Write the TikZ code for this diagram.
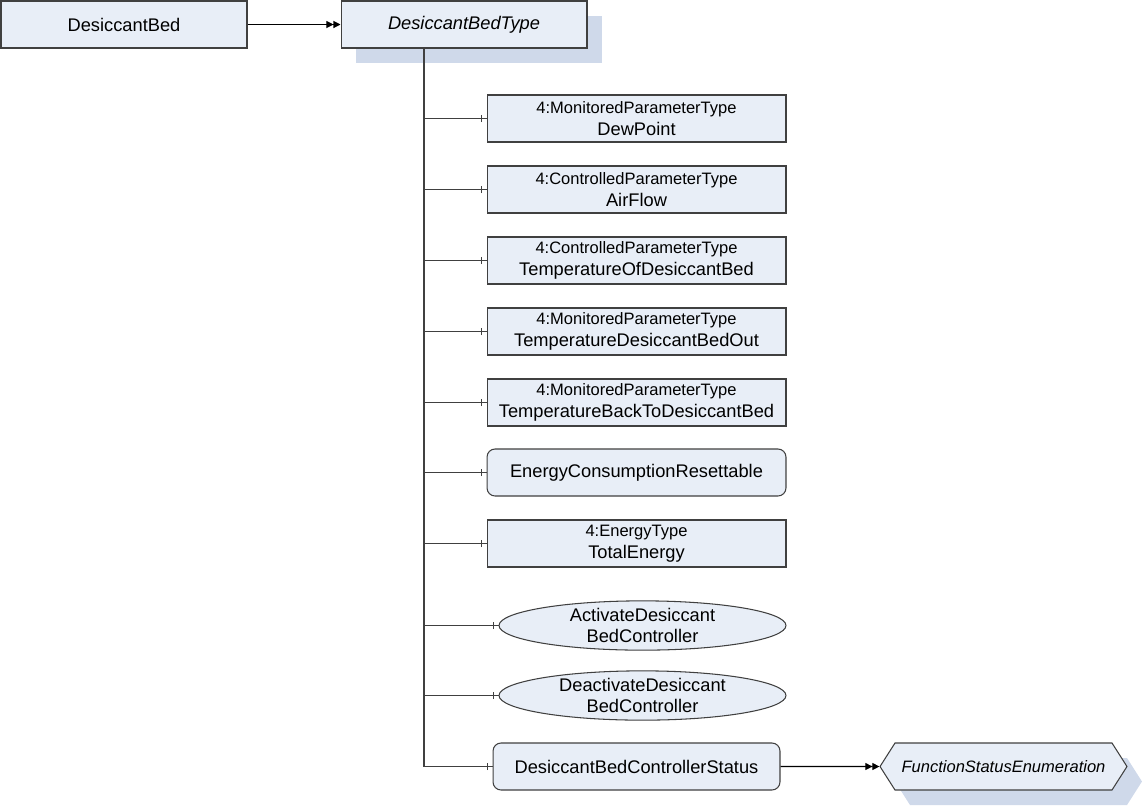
\documentclass[tikz,border=0pt]{standalone}
\usepackage{fontspec}
\setmainfont{Liberation Sans}
\usepackage{tikz}
\usetikzlibrary{arrows.meta,shapes.geometric,shapes.symbols,shadows,decorations.markings}
\definecolor{cFill}{HTML}{E8EEF7}
\definecolor{cShade}{HTML}{CFD9EA}
\definecolor{cLine}{HTML}{404040}
\newcommand{\mainsz}{\fontsize{10.4}{12.2}\selectfont}
\newcommand{\smallsz}{\fontsize{9.4}{11}\selectfont}
\newcommand{\typed}[2]{{\smallsz #1}\\#2}
\tikzset{
  obj/.style={draw=cLine,line width=0.6pt,fill=cFill,minimum width=5.98cm,minimum height=0.94cm,inner sep=0pt,align=center,font=\mainsz},
  shade/.style={general shadow={fill=cShade,shadow xshift=0.3cm,shadow yshift=-0.3cm}},
  tbox/.style={obj,minimum width=4.92cm},
  var/.style={obj,rounded corners=0.16cm},
  meth/.style={obj,ellipse,minimum width=5.74cm},
  enumbox/.style={obj,shade,minimum width=4.94cm,signal,signal to=west and east,signal pointer angle=115,font=\smallsz\itshape},
  ref/.style={draw=black,line width=0.6pt,-{Triangle[length=4pt,width=4pt]Triangle[length=4pt,width=4pt]}},
  branch/.style={draw=cLine,line width=0.6pt,decoration={markings,mark=at position -2.8pt with {\draw[cLine,line width=0.6pt] (0,-2pt) -- (0,2pt);}},postaction={decorate}}
}

\begin{document}
\begin{tikzpicture}[x=0.02cm,y=-0.02cm]
  \useasboundingbox (0,0) rectangle (1143,806);
  % object and its type
  \node[tbox] (bed) at (124,24.5) {DesiccantBed};
  \node[tbox,shade] (bedtype) at (464,24.5) {\itshape DesiccantBedType};
  \draw[ref] (bed) -- (bedtype);
  \coordinate (trunk) at (424,48);
  % components
  \foreach \n/\y/\t/\v in {dew/118.5/4:MonitoredParameterType/DewPoint,
      flow/189.5/4:ControlledParameterType/AirFlow,
      temp/260.5/4:ControlledParameterType/TemperatureOfDesiccantBed,
      tout/331.5/4:MonitoredParameterType/TemperatureDesiccantBedOut,
      tback/402.5/4:MonitoredParameterType/TemperatureBackToDesiccantBed,
      total/543.5/4:EnergyType/TotalEnergy}
    \node[obj] (\n) at (636.5,\y) {\typed{\t}{\v}};
  \node[var] (reset) at (636.5,472.5) {EnergyConsumptionResettable};
  \node[meth] (act) at (642.5,625.5) {ActivateDesiccant\\BedController};
  \node[meth] (deact) at (642.5,695.5) {DeactivateDesiccant\\BedController};
  \node[var,minimum width=5.74cm] (status) at (636.5,766.5) {DesiccantBedControllerStatus};
  \node[enumbox] (fse) at (1003.5,766.5) {FunctionStatusEnumeration};
  % tree lines
  \draw[cLine,line width=0.6pt] (trunk) -- (trunk |- status.west);
  \foreach \n in {dew,flow,temp,tout,tback,reset,total,act,deact,status}
    \draw[branch] (trunk |- \n.west) -- (\n.west);
  \draw[ref] (status) -- (fse);
\end{tikzpicture}
\end{document}
